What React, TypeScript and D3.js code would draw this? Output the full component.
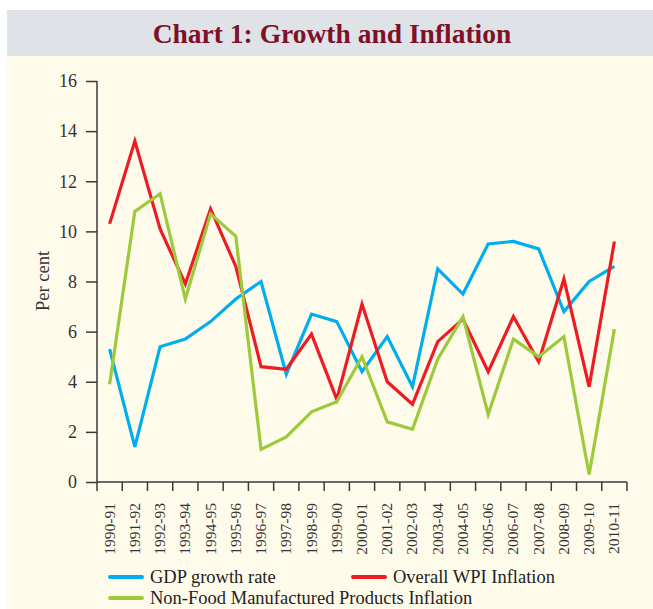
import React, { useRef, useEffect } from 'react';
import * as d3 from 'd3';

const years = [
  '1990-91', '1991-92', '1992-93', '1993-94', '1994-95', '1995-96', '1996-97',
  '1997-98', '1998-99', '1999-00', '2000-01', '2001-02', '2002-03', '2003-04',
  '2004-05', '2005-06', '2006-07', '2007-08', '2008-09', '2009-10', '2010-11'
];

const gdpGrowth = [5.3, 1.4, 5.4, 5.7, 6.4, 7.3, 8.0, 4.3, 6.7, 6.4, 4.4, 5.8, 3.8, 8.5, 7.5, 9.5, 9.6, 9.3, 6.8, 8.0, 8.6];
const wpiInflation = [10.3, 13.6, 10.1, 7.9, 10.9, 8.6, 4.6, 4.5, 5.9, 3.3, 7.1, 4.0, 3.1, 5.6, 6.5, 4.4, 6.6, 4.8, 8.1, 3.8, 9.6];
const nonFoodInflation = [3.9, 10.8, 11.5, 7.3, 10.7, 9.8, 1.3, 1.8, 2.8, 3.2, 5.0, 2.4, 2.1, 4.9, 6.6, 2.7, 5.7, 5.0, 5.8, 0.3, 6.1];

const yTicks = [0, 2, 4, 6, 8, 10, 12, 14, 16];

const series = [
  { name: 'GDP growth rate', values: gdpGrowth, color: '#00aeef' },
  { name: 'Overall WPI Inflation', values: wpiInflation, color: '#ed1c24' },
  { name: 'Non-Food Manufactured Products Inflation', values: nonFoodInflation, color: '#9dca3c' }
];

const W = 653;
const H = 609;
const FONT = '"Liberation Serif", serif';

export default function App() {
  const svgRef = useRef<SVGSVGElement>(null);

  useEffect(() => {
    if (!svgRef.current) return;
    const svg = d3.select(svgRef.current);
    svg.selectAll('*').remove();

    // backgrounds
    svg.append('rect').attr('x', 7).attr('y', 56).attr('width', W - 7).attr('height', H - 56).attr('fill', '#fffbea');
    svg.append('rect').attr('x', 7).attr('y', 10).attr('width', W - 7).attr('height', 46).attr('fill', '#dfe3e8');

    svg.append('text')
      .attr('x', 332)
      .attr('y', 43)
      .attr('text-anchor', 'middle')
      .style('font-family', FONT)
      .style('font-weight', 'bold')
      .style('font-size', '27.5px')
      .style('fill', '#7d1128')
      .text('Chart 1: Growth and Inflation');

    const x = d3.scaleBand<string>().domain(years).range([97, 627]);
    const y = d3.scaleLinear().domain([0, 16]).range([482, 81]);

    const g = svg.append('g');

    // y axis
    const yAxis = g.append('g').attr('transform', 'translate(97,0)')
      .call(d3.axisLeft(y).tickValues(yTicks).tickSize(11).tickPadding(9).tickFormat(d3.format('d')));
    yAxis.select('.domain').attr('stroke', '#3a3a3a').attr('stroke-width', 1.5).attr('d', `M0,${y(16)}V${y(0)}`);
    yAxis.selectAll('.tick line').attr('stroke', '#3a3a3a').attr('stroke-width', 1.5);
    yAxis.selectAll('.tick text')
      .style('font-family', FONT).style('font-size', '18px').style('fill', '#333');

    // x axis: ticks at band edges
    const xAxis = g.append('g').attr('transform', 'translate(0,482)');
    xAxis.append('line').attr('x1', 97).attr('x2', 627).attr('stroke', '#3a3a3a').attr('stroke-width', 1.5);
    const edges = years.map(d => x(d) as number).concat([627]);
    xAxis.selectAll('line.tk').data(edges).enter().append('line')
      .attr('class', 'tk')
      .attr('x1', d => d).attr('x2', d => d).attr('y1', 0).attr('y2', 9)
      .attr('stroke', '#3a3a3a').attr('stroke-width', 1.5);
    xAxis.selectAll('text').data(years).enter().append('text')
      .attr('transform', d => `translate(${(x(d) as number) + x.bandwidth() / 2 + 5},21) rotate(-90)`)
      .attr('text-anchor', 'end')
      .style('font-family', FONT).style('font-size', '15.5px').style('fill', '#333')
      .text(d => d);

    svg.append('text')
      .attr('transform', 'translate(49,281) rotate(-90)')
      .attr('text-anchor', 'middle')
      .style('font-family', FONT).style('font-size', '18.5px').style('fill', '#333')
      .text('Per cent');

    const line = d3.line<number>()
      .x((_, i) => (x(years[i]) as number) + x.bandwidth() / 2)
      .y(d => y(d));

    series.forEach(s => {
      g.append('path')
        .attr('d', line(s.values) as string)
        .attr('fill', 'none')
        .attr('stroke', s.color)
        .attr('stroke-width', 3.2)
        .attr('stroke-linejoin', 'miter');
    });

    // legend (second row nudged up so it stays inside the frame)
    const legendPos = [
      { x: 110, y: 577 },
      { x: 353, y: 577 },
      { x: 110, y: 598 }
    ];
    series.forEach((s, i) => {
      const p = legendPos[i];
      svg.append('line')
        .attr('x1', p.x).attr('x2', p.x + 32).attr('y1', p.y).attr('y2', p.y)
        .attr('stroke', s.color).attr('stroke-width', 4).attr('stroke-linecap', 'round');
      svg.append('text')
        .attr('x', p.x + 40).attr('y', p.y + 6)
        .style('font-family', FONT).style('font-size', '18.5px').style('fill', '#222')
        .text(s.name);
    });
  }, []);

  return (
    <div style={{ position: 'absolute', left: 0, top: 0 }}>
      <svg width={W} height={H} ref={svgRef} style={{ display: 'block' }} />
    </div>
  );
}
